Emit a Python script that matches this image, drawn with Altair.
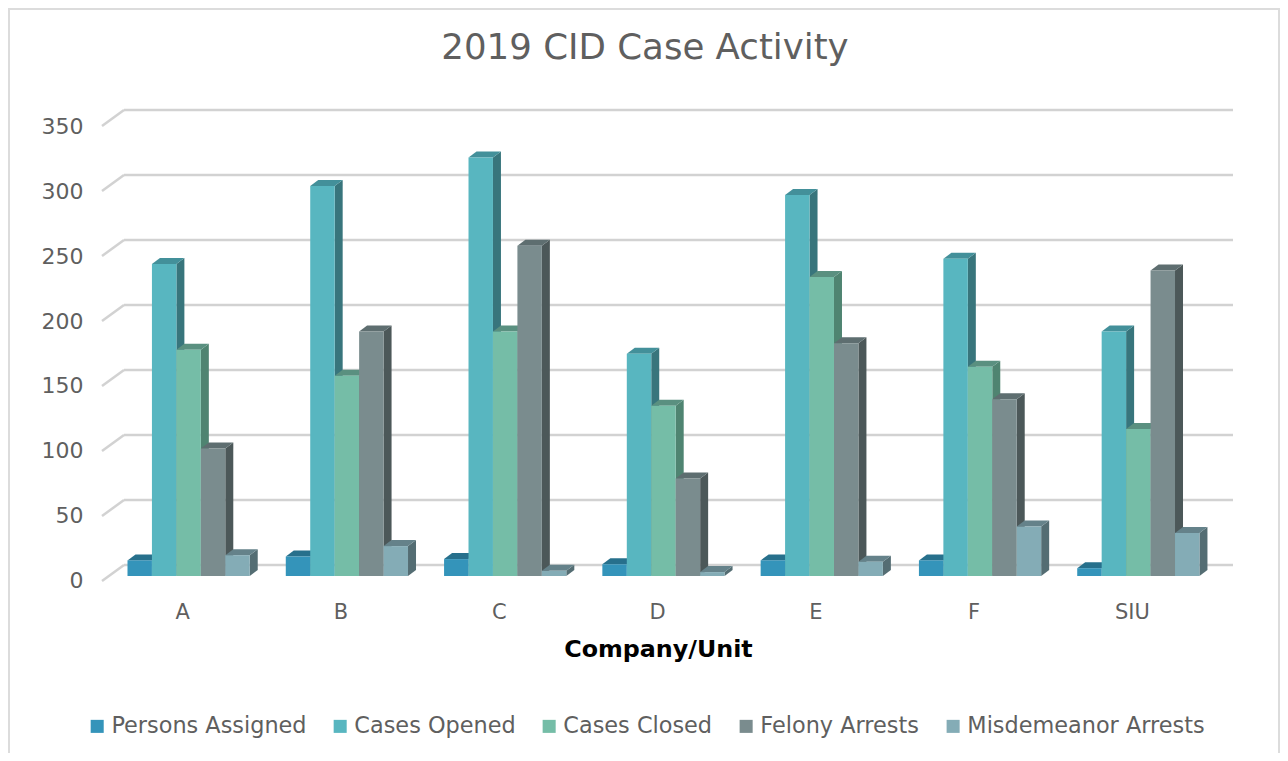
import altair as alt
import pandas as pd

categories = ["A", "B", "C", "D", "E", "F", "SIU"]
series = ["Persons Assigned", "Cases Opened", "Cases Closed", "Felony Arrests", "Misdemeanor Arrests"]
persons_assigned = [12, 15, 13, 9, 12, 12, 6]
cases_opened = [240, 300, 322, 171, 293, 244, 188]
cases_closed = [174, 154, 188, 131, 230, 161, 113]
felony_arrests = [98, 188, 254, 75, 179, 136, 235]
misdemeanor_arrests = [16, 23, 4, 3, 11, 38, 33]
series_values = [persons_assigned, cases_opened, cases_closed, felony_arrests, misdemeanor_arrests]
grid_values = [0, 50, 100, 150, 200, 250, 300, 350]

front_colors = ["#3494BA", "#58B6C0", "#75BDA7", "#7A8C8E", "#84ACB6"]
side_colors = ["#27708C", "#38757C", "#4F8471", "#4C5859", "#546D73"]
top_colors = ["#27708C", "#43909A", "#5A9080", "#5E6E70", "#65828A"]

STEP = 158.3
PLOT_W = 7 * STEP
PLOT_H = 455
PX_PER_UNIT = PLOT_H / 350
BAR_W = 24.45 / STEP
BAR_START = 25.5 / STEP
DX = 8 / STEP
DY = 6 / PX_PER_UNIT
BASE = -5

fronts, sides, tops = [], [], []
for j, (name, vals) in enumerate(zip(series, series_values)):
    for i, (cat, v) in enumerate(zip(categories, vals)):
        xl = i + BAR_START + j * BAR_W
        xr = xl + BAR_W
        fronts.append(dict(series=name, cat=cat, x0=xl, x1=xr, v=v, base=0))
        sides += [
            dict(series=name, cat=cat, x=xr, y=v, y2=0),
            dict(series=name, cat=cat, x=xr + DX, y=v + DY, y2=DY),
        ]
        tops += [
            dict(series=name, cat=cat, x=xl, y=v, y2=v),
            dict(series=name, cat=cat, x=xl + DX, y=v + DY, y2=v),
            dict(series=name, cat=cat, x=xr, y=v + DY, y2=v),
            dict(series=name, cat=cat, x=xr + DX, y=v + DY, y2=v + DY),
        ]
fronts, sides, tops = pd.DataFrame(fronts), pd.DataFrame(sides), pd.DataFrame(tops)
grid = pd.DataFrame({"v": grid_values})

FONT = "DejaVu Sans"
TEXT = "#5F5F5F"
GRID = "#D2D2D2"
FRAME = "#DCDCDC"
PAD = {"left": 94, "top": 118, "right": 70, "bottom": 172}

xs = alt.Scale(domain=[0, 7], nice=False, zero=False)
ys = alt.Scale(domain=[0, 350], nice=False)
x_hidden = alt.X("x:Q", scale=xs, axis=None)
y_hidden = alt.Y("y:Q", scale=ys, axis=None)

label_list = "[" + ",".join(f"'{c}'" for c in categories) + "]"

axes = alt.Chart(grid).mark_rule(opacity=0).encode(
    x=alt.X(
        "datum_x:Q",
        scale=xs,
        axis=alt.Axis(
            values=[i + 0.5 for i in range(7)],
            labelExpr=f"{label_list}[floor(datum.value)]",
            domain=False, ticks=False, grid=False,
            labelFontSize=21, labelColor=TEXT, labelFont=FONT, labelPadding=21, labelOffset=1,
            title="Company/Unit", titleFont=FONT, titleFontSize=23.8, titleFontWeight="bold",
            titleColor="#000000", titleX=556, titleY=57,
        ),
    ),
    y=alt.Y(
        "v:Q",
        scale=ys,
        axis=alt.Axis(
            values=grid_values, title=None, domain=False, ticks=False, grid=False,
            labelFontSize=22, labelColor=TEXT, labelFont=FONT, labelPadding=19, labelOffset=0,
        ),
    ),
).transform_calculate(datum_x="0")

frame_src = pd.DataFrame({"edge": ["frame"]})
frame_top = alt.Chart(frame_src).mark_rule(color=FRAME, strokeWidth=2).encode(
    x=alt.value(-94), x2=alt.value(PLOT_W + PAD["right"]), y=alt.value(-117)
)
frame_left = alt.Chart(frame_src).mark_rule(color=FRAME, strokeWidth=2).encode(
    x=alt.value(-93), y=alt.value(-118), y2=alt.value(PLOT_H + PAD["bottom"])
)
frame_right = alt.Chart(frame_src).mark_rule(color=FRAME, strokeWidth=2).encode(
    x=alt.value(PLOT_W + PAD["right"] - 1), y=alt.value(-118), y2=alt.value(PLOT_H + PAD["bottom"])
)

back_grid = alt.Chart(grid).mark_rule(color=GRID, strokeWidth=2.5, yOffset=-16).encode(
    x=alt.value(22), x2=alt.value(PLOT_W + 23), y=alt.Y("v:Q", scale=ys, axis=None)
)
wall_grid = alt.Chart(grid).mark_rule(color=GRID, strokeWidth=2.5, y2Offset=-16).encode(
    x=alt.value(0), x2=alt.value(22), y=alt.Y("v:Q", scale=ys, axis=None), y2="v:Q"
)

layers = [frame_top, frame_left, frame_right, back_grid, wall_grid, axes]
for j, name in enumerate(series):
    side = alt.Chart(sides[sides.series == name]).mark_area(
        color=side_colors[j], yOffset=BASE, y2Offset=BASE, line=False
    ).encode(x=x_hidden, y=y_hidden, y2="y2:Q", detail="cat:N")
    top = alt.Chart(tops[tops.series == name]).mark_area(
        color=top_colors[j], yOffset=BASE, y2Offset=BASE
    ).encode(x=x_hidden, y=y_hidden, y2="y2:Q", detail="cat:N")
    front = alt.Chart(fronts[fronts.series == name]).mark_bar(
        yOffset=BASE, y2Offset=BASE, opacity=1
    ).encode(
        x=alt.X("x0:Q", scale=xs, axis=None),
        x2="x1:Q",
        y=alt.Y("v:Q", scale=ys, axis=None),
        y2="base:Q",
        color=alt.Color(
            "series:N",
            scale=alt.Scale(domain=series, range=front_colors),
            sort=series,
            legend=alt.Legend(
                title=None, orient="none", direction="horizontal", columns=5,
                legendX=-16, legendY=589, symbolType="square", symbolSize=170,
                symbolStrokeWidth=0, labelFont=FONT, labelFontSize=22.4, labelColor=TEXT,
                labelOffset=3, columnPadding=22, labelLimit=400,
            ),
        ),
    )
    layers += [side, top, front]

chart = alt.layer(*layers).resolve_axis(x="independent", y="independent").properties(
    width=PLOT_W,
    height=PLOT_H,
    autosize=alt.AutoSizeParams(type="none"),
    padding=PAD,
    background="white",
    title=alt.TitleParams(
        "2019 CID Case Activity", font=FONT, fontSize=35.6, fontWeight="normal",
        color=TEXT, anchor="middle", offset=-60, dx=-11,
    ),
).configure_view(stroke=None)

chart.save("out.html", embed_options={"renderer": "svg", "actions": False})
